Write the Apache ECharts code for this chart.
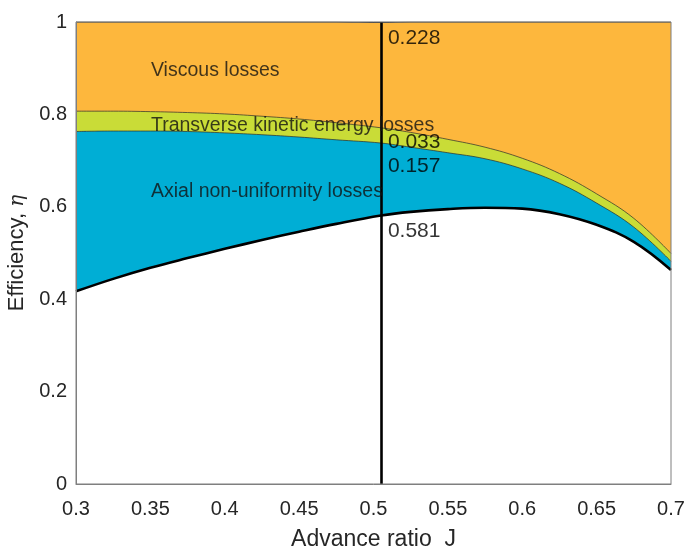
<!DOCTYPE html>
<html>
<head>
<meta charset="utf-8">
<script src="https://cdn.jsdelivr.net/npm/echarts@6/dist/echarts.min.js"></script>
<style>
  html, body { margin: 0; padding: 0; background: #fff; }
  #chart { width: 689px; height: 551px; }
</style>
</head>
<body>
<div id="chart"></div>
<script>
// Advance ratio J
const advanceRatio = [0.30, 0.325, 0.35, 0.375, 0.40, 0.425, 0.45, 0.475, 0.505,
                      0.525, 0.55, 0.575, 0.60, 0.625, 0.65, 0.675, 0.70];
// Efficiency and the loss components stacked on top of it (they sum to 1)
const efficiency     = [0.417, 0.444, 0.468, 0.489, 0.509, 0.528, 0.546, 0.563, 0.581,
                        0.589, 0.595, 0.598, 0.596, 0.584, 0.561, 0.524, 0.463];
const axialLoss      = [0.346, 0.320, 0.296, 0.274, 0.251, 0.228, 0.205, 0.182, 0.157,
                        0.140, 0.122, 0.106, 0.086, 0.067, 0.047, 0.032, 0.019];
const transverseLoss = [0.044, 0.043, 0.042, 0.041, 0.041, 0.040, 0.039, 0.037, 0.033,
                        0.032, 0.029, 0.025, 0.023, 0.021, 0.020, 0.019, 0.017];
const viscousLoss    = [0.193, 0.193, 0.194, 0.196, 0.199, 0.204, 0.210, 0.218, 0.228,
                        0.239, 0.254, 0.271, 0.295, 0.328, 0.372, 0.425, 0.501];
// Design point marked by the vertical line
const designJ = 0.505;
const regionNames = ['Viscous losses', 'Transverse kinetic energy losses', 'Axial non-uniformity losses'];

const FONT = "'Liberation Sans', Arial, Helvetica, sans-serif";
const k = advanceRatio.indexOf(designJ);

// Running totals: each band sits on top of the ones below it
const layers = [efficiency, axialLoss, transverseLoss, viscousLoss];
const bounds = layers.map((_, li) =>
  advanceRatio.map((x, i) => {
    let s = 0;
    for (let m = 0; m <= li; m++) s += layers[m][i];
    return [x, +s.toFixed(4)];
  })
);

const chart = echarts.init(document.getElementById('chart'), null, { renderer: 'canvas' });

const thinEdge = { color: '#2b2b2b', width: 0.7 };
const SMOOTH = 0.4;

// Opaque fills drawn from the top band down, each one covering the next lower region
function band(name, data, fill, edge, z) {
  return {
    name, type: 'line', data, smooth: SMOOTH, symbol: 'none', z,
    lineStyle: edge, areaStyle: { color: fill, opacity: 1, origin: 'start' }
  };
}

chart.setOption({
  animation: false,
  backgroundColor: '#ffffff',
  grid: { left: 76, right: 18, top: 22, bottom: 67, show: true, z: 10,
          outerBoundsMode: 'none', containLabel: false,
          borderColor: '#7f7f7f', borderWidth: 1, backgroundColor: 'transparent' },
  xAxis: {
    type: 'value', min: 0.3, max: 0.7, interval: 0.05, z: 10,
    name: 'Advance ratio  J', nameLocation: 'middle', nameGap: 44,
    nameTextStyle: { fontFamily: FONT, fontSize: 23, color: '#262626' },
    axisLine: { show: true, lineStyle: { color: '#7f7f7f', width: 1 } },
    axisTick: { show: false },
    splitLine: { show: false },
    axisLabel: { fontFamily: FONT, fontSize: 20, color: '#262626', margin: 15 }
  },
  yAxis: {
    type: 'value', min: 0, max: 1, interval: 0.2, z: 10,
    name: 'Efficiency, {e|η}', nameLocation: 'middle', nameGap: 41, nameRotate: 90,
    nameTextStyle: { fontFamily: FONT, fontSize: 22, color: '#262626',
      rich: { e: { fontFamily: "'DejaVu Serif', 'Liberation Serif', serif", fontStyle: 'italic', fontSize: 20, color: '#262626' } } },
    axisLine: { show: true, lineStyle: { color: '#7f7f7f', width: 1 } },
    axisTick: { show: false },
    splitLine: { show: false },
    axisLabel: { fontFamily: FONT, fontSize: 20, color: '#262626', margin: 9 }
  },
  series: [
    band(regionNames[0], bounds[3], '#fdb73d', { color: '#2b2b2b', width: 1.2 }, 2),
    band(regionNames[1], bounds[2], '#c9dc37', thinEdge, 3),
    band(regionNames[2], bounds[1], '#00aed5', thinEdge, 4),
    {
      name: 'Efficiency', type: 'line', data: bounds[0],
      smooth: SMOOTH, symbol: 'none', z: 5,
      lineStyle: { color: '#000000', width: 2.6 },
      areaStyle: { color: '#ffffff', opacity: 1, origin: 'start' }
    },
    {
      // vertical line at the design advance ratio
      name: 'designLine', type: 'line', data: [], z: 7, silent: true,
      markLine: {
        silent: true, symbol: 'none', label: { show: false }, z: 7,
        lineStyle: { color: '#000000', width: 2.6, type: 'solid' },
        data: [[{ coord: [designJ, 0] }, { coord: [designJ, 1] }]]
      }
    },
    {
      // region names
      name: 'regionText', type: 'scatter', symbolSize: 0, z: 8, silent: true,
      label: { show: true, position: 'right', distance: 0, fontFamily: FONT, fontSize: 19.5, color: '#111111',
               formatter: p => p.data[2] },
      data: [[0.3504, 0.8955, regionNames[0]], [0.3504, 0.776, regionNames[1]], [0.3504, 0.6335, regionNames[2]]]
    },
    {
      // component values at the design point
      name: 'valueText', type: 'scatter', symbolSize: 0, z: 8, silent: true,
      label: { show: true, position: 'right', distance: 0, fontFamily: FONT, fontSize: 21, color: '#000000',
               formatter: p => p.data[2] },
      data: [
        [designJ + 0.0047, 0.965, viscousLoss[k].toFixed(3)],
        [designJ + 0.0047, 0.7396, transverseLoss[k].toFixed(3)],
        [designJ + 0.0047, 0.6877, axialLoss[k].toFixed(3)],
        [designJ + 0.0047, 0.547, efficiency[k].toFixed(3)]
      ]
    }
  ]
});
</script>
</body>
</html>
